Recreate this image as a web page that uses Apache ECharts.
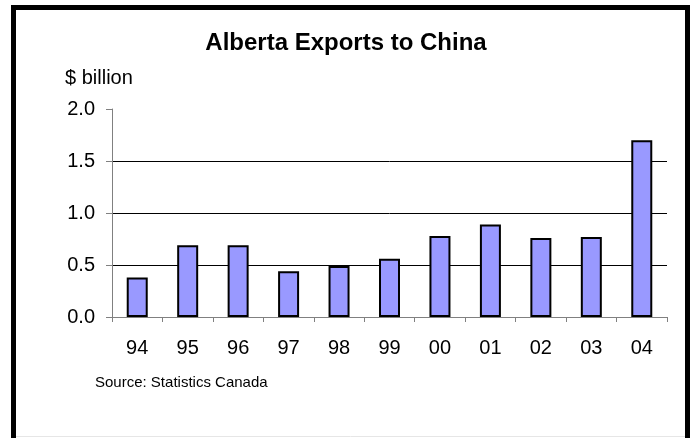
<!DOCTYPE html>
<html>
<head>
<meta charset="utf-8">
<script src="https://cdn.jsdelivr.net/npm/echarts@6/dist/echarts.min.js"></script>
<style>
html,body{margin:0;padding:0;background:#fff;}
#c{width:692px;height:438px;}
</style>
</head>
<body>
<div id="c"></div>
<script>
const categories = ['94','95','96','97','98','99','00','01','02','03','04'];
const exportsBillion = [0.38, 0.69, 0.69, 0.44, 0.49, 0.56, 0.78, 0.89, 0.76, 0.77, 1.70];
const titleText = 'Alberta Exports to China';
const unitText = '$ billion';
const sourceText = 'Source: Statistics Canada';

const FONT = '"Liberation Sans", Arial, sans-serif';
const chart = echarts.init(document.getElementById('c'), null, {renderer: 'canvas'});
chart.setOption({
  animation: false,
  backgroundColor: '#fff',
  title: {
    text: titleText,
    left: 'center',
    top: 26,
    textStyle: {fontFamily: FONT, fontWeight: 'bold', fontSize: 24, color: '#000'}
  },
  grid: {left: 112, right: 25, top: 109, bottom: 121},
  xAxis: {
    type: 'category',
    data: categories,
    boundaryGap: true,
    axisLine: {show: true, lineStyle: {color: '#808080', width: 1}},
    axisTick: {show: true, alignWithLabel: false, length: 5, lineStyle: {color: '#808080'}},
    axisLabel: {fontFamily: FONT, fontSize: 20, color: '#000', margin: 21}
  },
  yAxis: {
    type: 'value',
    min: 0, max: 2, interval: 0.5,
    axisLine: {show: true, lineStyle: {color: '#808080', width: 1}},
    axisTick: {show: true, length: 6, lineStyle: {color: '#808080'}},
    axisLabel: {fontFamily: FONT, fontSize: 20, color: '#000', margin: 17,
      formatter: v => v.toFixed(1)},
    splitLine: {show: true, lineStyle: {color: ['#808080','#000','#000','#000','rgba(0,0,0,0)'], width: 1}}
  },
  series: [{
    type: 'bar',
    data: exportsBillion,
    barWidth: 21,
    itemStyle: {color: '#9999ff', borderColor: '#000', borderWidth: 2}
  }],
  graphic: [
    {type: 'text', left: 65, top: 68, style: {text: unitText, font: '20px ' + FONT, fill: '#000'}},
    {type: 'text', left: 95, top: 375, style: {text: sourceText, font: '15px ' + FONT, fill: '#000'}},
    {type: 'rect', shape: {x: 13.5, y: 7.5, width: 674, height: 460}, style: {fill: 'none', stroke: '#000', lineWidth: 5}, silent: true},
    {type: 'line', shape: {x1: 16, y1: 436.5, x2: 685, y2: 436.5}, style: {stroke: '#e6e6e6', lineWidth: 1}, silent: true}
  ]
});
</script>
</body>
</html>
